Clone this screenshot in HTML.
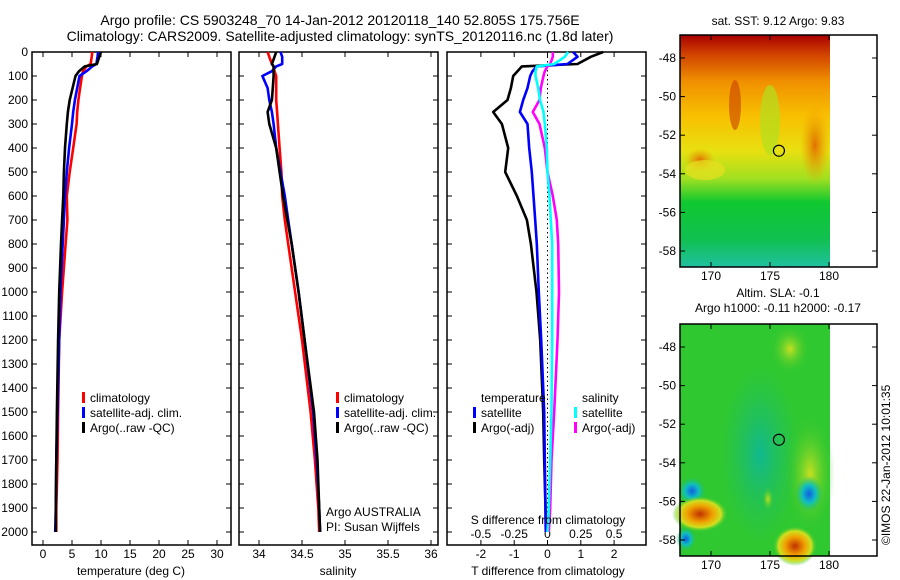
<!DOCTYPE html>
<html><head><meta charset="utf-8"><style>
body{margin:0;background:#fff;}
svg{display:block;font-family:"Liberation Sans",sans-serif;}
text{font-size:12px;fill:#000;}
</style></head><body>
<svg id="c" width="900" height="580" viewBox="0 0 900 580">
<defs>
<linearGradient id="sst" x1="0" y1="0" x2="0" y2="1">
<stop offset="0" stop-color="#a80000"/><stop offset="0.08" stop-color="#d04000"/>
<stop offset="0.2" stop-color="#f09000"/><stop offset="0.35" stop-color="#f8c000"/>
<stop offset="0.5" stop-color="#e8e010"/><stop offset="0.62" stop-color="#a0e020"/>
<stop offset="0.72" stop-color="#10c830"/><stop offset="0.88" stop-color="#10c050"/>
<stop offset="1" stop-color="#20c0a0"/></linearGradient>
<radialGradient id="blueblob"><stop offset="0" stop-color="#1060e0"/><stop offset="0.5" stop-color="#10c0c0"/><stop offset="1" stop-color="#20c060" stop-opacity="0"/></radialGradient>
<radialGradient id="redblob"><stop offset="0" stop-color="#c03000"/><stop offset="0.45" stop-color="#f0a000"/><stop offset="0.75" stop-color="#d0e020"/><stop offset="1" stop-color="#30c830" stop-opacity="0"/></radialGradient>
<radialGradient id="yelblob"><stop offset="0" stop-color="#c8e020"/><stop offset="1" stop-color="#30c830" stop-opacity="0"/></radialGradient>
<radialGradient id="tealblob"><stop offset="0" stop-color="#10b890"/><stop offset="1" stop-color="#20c060" stop-opacity="0"/></radialGradient>
<radialGradient id="orblob"><stop offset="0" stop-color="#e07000"/><stop offset="1" stop-color="#f0a000" stop-opacity="0"/></radialGradient>
</defs>
<g id="titles">
<text x="340" y="25" text-anchor="middle" style="font-size:14px">Argo profile: CS 5903248_70 14-Jan-2012 20120118_140 52.805S 175.756E</text>
<text x="340" y="41" text-anchor="middle" style="font-size:14px">Climatology: CARS2009. Satellite-adjusted climatology: synTS_20120116.nc (1.8d later)</text>
</g>
<g id="p1"></g><g id="p2"></g><g id="p3"></g>
<g id="maps"></g>
<text transform="translate(890,545) rotate(-90)">©IMOS 22-Jan-2012 10:01:35</text>
</svg>
<script>
// depth grid (m)
const depths=[0,20,50,60,80,100,150,200,250,300,400,500,600,700,800,1000,1200,1500,1700,1900,2000];
// temperature (deg C)
const tArgo=[10,9.7,9.3,7.2,6.2,5.6,5.1,4.6,4.3,4.1,3.8,3.6,3.5,3.3,3.1,2.8,2.6,2.4,2.3,2.2,2.2];
const tClim=[8.5,8.4,8.2,7.5,6.9,6.7,6.4,6.1,5.9,5.8,5.2,4.6,4.1,4.2,3.9,3.3,2.8,2.6,2.5,2.3,2.3];
const tSat=[9.5,9.4,9.2,8.5,7.5,6.3,5.9,5.5,5.2,5.0,4.5,4.1,3.8,3.6,3.4,3.0,2.8,2.5,2.3,2.2,2.1];
// salinity
const sArgo=[34.2,34.18,34.15,34.17,34.17,34.17,34.16,34.15,34.1,34.12,34.2,34.24,34.28,34.33,34.38,34.46,34.53,34.64,34.68,34.7,34.71];
const sClim=[34.1,34.12,34.15,34.17,34.18,34.2,34.2,34.2,34.21,34.22,34.24,34.26,34.27,34.3,34.34,34.42,34.5,34.6,34.65,34.69,34.7];
const sSat=[34.25,34.27,34.27,34.2,34.15,34.04,34.1,34.12,34.15,34.17,34.2,34.25,34.3,34.34,34.38,34.46,34.53,34.63,34.67,34.7,34.71];
// differences
const dTArgo=[1.67,1.3,0.9,-0.77,-0.9,-1.03,-1.1,-1.2,-1.63,-1.37,-1.18,-1.27,-0.92,-0.62,-0.5,-0.33,-0.22,-0.13,-0.1,-0.06,-0.05];
const dTSat=[0.77,0.9,0.6,-0.32,-0.45,-0.52,-0.6,-0.73,-0.83,-0.6,-0.55,-0.47,-0.42,-0.37,-0.32,-0.26,-0.19,-0.1,-0.08,-0.06,-0.05];
const dSSat=[0.155,0.13,0.05,-0.08,-0.09,-0.09,-0.07,-0.056,-0.03,-0.02,-0.005,0,0.015,0.025,0.035,0.035,0.035,0.03,0.02,0.01,0];
const dSArgo=[0.04,0.04,0.02,0,-0.02,-0.03,-0.05,-0.06,-0.11,-0.06,-0.02,0,0.04,0.07,0.08,0.086,0.075,0.05,0.03,0.02,0.01];
const depthTicks=[0,100,200,300,400,500,600,700,800,900,1000,1100,1200,1300,1400,1500,1600,1700,1800,1900,2000];
const tTicks=[0,5,10,15,20,25,30];
const sTicks=[34,34.5,35,35.5,36];
const sTickLabels=["34","34.5","35","35.5","36"];
const dTTicks=[-2,-1,0,1,2];
const dSTicks=[-0.5,-0.25,0,0.25,0.5];
const dSTickLabels=["-0.5","-0.25","0","0.25","0.5"];
const latTicks=[-48,-50,-52,-54,-56,-58];
const lonTicks=[170,175,180];

const NS="http://www.w3.org/2000/svg";
function mk(tag,attrs,parent,txt){const e=document.createElementNS(NS,tag);for(const k in attrs)e.setAttribute(k,attrs[k]);if(txt!==undefined)e.textContent=txt;parent.appendChild(e);return e;}
const Y=d=>52+d*0.24;
const TOP=52,BOT=545;
function panel(g,x0,x1,name){
  const r=mk('rect',{x:x0,y:TOP,width:x1-x0,height:BOT-TOP,fill:'none',stroke:'#000','stroke-width':1.5},g);
  
  
  depthTicks.forEach(d=>{mk('line',{x1:x0,x2:x0+5,y1:Y(d),y2:Y(d),stroke:'#000'},g);mk('line',{x1:x1-5,x2:x1,y1:Y(d),y2:Y(d),stroke:'#000'},g);});
}
function line(g,xs,X,color,name){
  const pts=depths.map((d,i)=>X(xs[i]).toFixed(1)+','+Y(d).toFixed(1)).join(' ');
  const p=mk('polyline',{points:pts,fill:'none',stroke:color,'stroke-width':2.6,'stroke-linejoin':'round'},g);
  
  
}
function xticks(g,ticks,labels,X,y,top){
  ticks.forEach((v,i)=>{mk('line',{x1:X(v),x2:X(v),y1:BOT,y2:BOT-5,stroke:'#000'},g);if(top)mk('line',{x1:X(v),x2:X(v),y1:TOP,y2:TOP+5,stroke:'#000'},g);
    const t=mk('text',{x:X(v),y:y,'text-anchor':'middle'},g,labels?labels[i]:String(v));
    
    });
}
function legend(g,x,y,items){
  items.forEach((it,i)=>{mk('rect',{x:x-8,y:y+i*15-10,width:3,height:11,fill:it[1]},g);
    const t=mk('text',{x:x,y:y+i*15},g,it[0]);
    
    });
}
// Panel 1
const g1=document.getElementById('p1');


const XT=v=>43+v*5.8;
panel(g1,32,231,'temperature');
depthTicks.forEach(d=>{const t=mk('text',{x:28,y:Y(d)+4,'text-anchor':'end'},g1,String(d));
  
  });
xticks(g1,tTicks,null,XT,558,true);
line(g1,tClim,XT,'#f00','temp-climatology-line');
line(g1,tSat,XT,'#00f','temp-satellite-line');
line(g1,tArgo,XT,'#000','temp-argo-line');
legend(g1,90,402,[['climatology','#f00'],['satellite-adj. clim.','#00f'],['Argo(..raw -QC)','#000']]);
let t=mk('text',{x:131,y:575,'text-anchor':'middle'},g1,'temperature (deg C)');


// Panel 2
const g2=document.getElementById('p2');


const XS=v=>259+(v-34)*86;
panel(g2,239,438,'salinity');
xticks(g2,sTicks,sTickLabels,XS,558,true);
line(g2,sClim,XS,'#f00','sal-climatology-line');
line(g2,sSat,XS,'#00f','sal-satellite-line');
line(g2,sArgo,XS,'#000','sal-argo-line');
legend(g2,344,402,[['climatology','#f00'],['satellite-adj. clim.','#00f'],['Argo(..raw -QC)','#000']]);
t=mk('text',{x:326,y:516},g2,'Argo AUSTRALIA');
t=mk('text',{x:326,y:531},g2,'PI: Susan Wijffels');
t=mk('text',{x:338,y:575,'text-anchor':'middle'},g2,'salinity');
// Panel 3
const g3=document.getElementById('p3');


const XD=v=>547.5+v*33.3;
const XDS=v=>547.5+v*133.2;
panel(g3,447,646,'difference');
mk('line',{x1:XD(0),x2:XD(0),y1:TOP,y2:Y(2000),stroke:'#000','stroke-dasharray':'1.5,3'},g3);
xticks(g3,dTTicks,null,XD,558,true);
dSTicks.forEach((v,i)=>{const tt=mk('text',{x:XDS(v),y:538,'text-anchor':'middle'},g3,dSTickLabels[i]);});
line(g3,dTArgo,XD,'#000','tdiff-argo-line');
line(g3,dTSat,XD,'#00f','tdiff-satellite-line');
line(g3,dSArgo,XDS,'#f0f','sdiff-argo-line');
line(g3,dSSat,XDS,'#0ff','sdiff-satellite-line');
t=mk('text',{x:481,y:402},g3,'temperature');
t=mk('text',{x:582,y:402},g3,'salinity');
legend(g3,481,417,[['satellite','#00f'],['Argo(-adj)','#000']]);
legend(g3,582,417,[['satellite','#0ff'],['Argo(-adj)','#f0f']]);
t=mk('text',{x:548,y:524,'text-anchor':'middle'},g3,'S difference from climatology');
t=mk('text',{x:548,y:575,'text-anchor':'middle'},g3,'T difference from climatology');
// Maps
const gm=document.getElementById('maps');
const LON=v=>711+(v-170)*11.8;
function map(y0,title1,title2,kind,name){
  const g=mk('g',{},gm);
  
  
  const LAT=v=>y0+23+(-48-v)*19.3;
  if(kind==='sst'){
    mk('rect',{x:680,y:y0,width:150,height:232,fill:'url(#sst)'},g);
    mk('ellipse',{cx:735,cy:y0+70,rx:6,ry:25,fill:'#c84000',opacity:0.6},g);
    mk('ellipse',{cx:815,cy:y0+110,rx:15,ry:40,fill:'url(#orblob)'},g);
    mk('ellipse',{cx:700,cy:y0+125,rx:15,ry:12,fill:'url(#orblob)'},g);
    mk('ellipse',{cx:770,cy:y0+85,rx:10,ry:35,fill:'#b0e020',opacity:0.7},g);
    mk('ellipse',{cx:705,cy:y0+135,rx:20,ry:10,fill:'#e8e020',opacity:0.7},g);
  } else {
    mk('rect',{x:680,y:y0,width:150,height:232,fill:'#30c830'},g);
    mk('ellipse',{cx:760,cy:y0+130,rx:40,ry:90,fill:'url(#tealblob)'},g);
    mk('ellipse',{cx:810,cy:y0+150,rx:25,ry:60,fill:'url(#yelblob)'},g);
    mk('ellipse',{cx:790,cy:y0+25,rx:20,ry:25,fill:'url(#yelblob)'},g);
    mk('ellipse',{cx:692,cy:y0+167,rx:14,ry:14,fill:'url(#blueblob)'},g);
    mk('ellipse',{cx:809,cy:y0+170,rx:14,ry:18,fill:'url(#blueblob)'},g);
    mk('ellipse',{cx:700,cy:y0+190,rx:28,ry:18,fill:'url(#redblob)'},g);
    mk('ellipse',{cx:795,cy:y0+222,rx:22,ry:20,fill:'url(#redblob)'},g);
    mk('ellipse',{cx:768,cy:y0+175,rx:6,ry:12,fill:'url(#yelblob)'},g);
    mk('ellipse',{cx:686,cy:y0+215,rx:10,ry:12,fill:'url(#blueblob)'},g);
  }
  mk('rect',{x:680,y:y0,width:197,height:232,fill:'none',stroke:'#000','stroke-width':1.5},g);
  latTicks.forEach(v=>{mk('line',{x1:680,x2:685,y1:LAT(v),y2:LAT(v),stroke:'#000'},g);mk('line',{x1:872,x2:877,y1:LAT(v),y2:LAT(v),stroke:'#000'},g);
    const tt=mk('text',{x:676,y:LAT(v)+4,'text-anchor':'end'},g,String(v));});
  lonTicks.forEach(v=>{mk('line',{x1:LON(v),x2:LON(v),y1:y0+232,y2:y0+227,stroke:'#000'},g);mk('line',{x1:LON(v),x2:LON(v),y1:y0,y2:y0+5,stroke:'#000'},g);
    const tt=mk('text',{x:LON(v),y:y0+245,'text-anchor':'middle'},g,String(v));});
  const c=mk('circle',{cx:LON(175.756),cy:LAT(-52.805),r:5.5,fill:'none',stroke:'#000','stroke-width':1.2},g);
  
  
  let tt=mk('text',{x:778,y:title2?y0-27:y0-10,'text-anchor':'middle'},g,title1);
  if(title2){tt=mk('text',{x:778,y:y0-12,'text-anchor':'middle'},g,title2);}
}
map(35,'sat. SST: 9.12 Argo: 9.83',null,'sst','sst-map');
map(324,'Altim. SLA: -0.1','Argo h1000: -0.11 h2000: -0.17','sla','sla-map');
</script>
</body></html>
